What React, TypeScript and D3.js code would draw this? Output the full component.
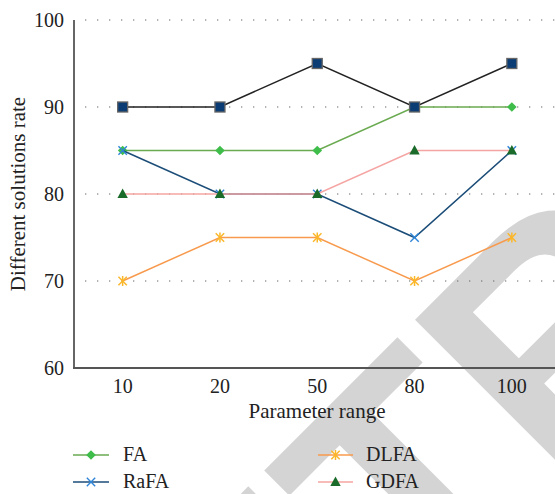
import React from 'react';
import * as d3 from 'd3';

const categories = ['10', '20', '50', '80', '100'];
const yTicks = [60, 70, 80, 90, 100];
const gridTicks = [70, 80, 90, 100];
const faValues = [85, 85, 85, 90, 90];
const rafaValues = [85, 80, 80, 75, 85];
const dlfaValues = [70, 75, 75, 70, 75];
const gdfaValues = [80, 80, 80, 85, 85];
const topValues = [90, 90, 95, 90, 95];
const legendNames = ['FA', 'RaFA', 'DLFA', 'GDFA'];

const W = 555;
const H = 494;
const FONT = '"Liberation Serif", "Times New Roman", serif';

const x = d3.scalePoint<string>().domain(categories).range([74, 560.5]).padding(0.5);
const y = d3.scaleLinear().domain([60, 100]).range([368, 20]);

type MarkerType = 'diamond' | 'x' | 'asterisk' | 'triangle' | 'square';

interface SeriesDef {
  name: string;
  values: number[];
  line: string;
  marker: MarkerType;
  fill: string;
  stroke?: string;
}

const series: SeriesDef[] = [
  { name: 'FA', values: faValues, line: '#6aaa50', marker: 'diamond', fill: '#3ebd4a' },
  { name: 'RaFA', values: rafaValues, line: '#1b4d78', marker: 'x', fill: '#2e85d8' },
  { name: 'DLFA', values: dlfaValues, line: '#f89a4d', marker: 'asterisk', fill: '#fbb72a' },
  { name: 'GDFA', values: gdfaValues, line: '#f5a5a3', marker: 'triangle', fill: '#1a6a2a' },
  { name: 'Top', values: topValues, line: '#222222', marker: 'square', fill: '#0c3c74', stroke: '#666' },
];

function Marker({ type, cx, cy, fill, stroke }: { type: MarkerType; cx: number; cy: number; fill: string; stroke?: string }) {
  const t = `translate(${cx},${cy})`;
  switch (type) {
    case 'diamond':
      return <path transform={t} d="M0,-4.8L4.8,0L0,4.8L-4.8,0Z" fill={fill} />;
    case 'x':
      return (
        <g transform={t} stroke={fill} strokeWidth={1.4}>
          <line x1={-4.2} y1={-4.2} x2={4.2} y2={4.2} />
          <line x1={-4.2} y1={4.2} x2={4.2} y2={-4.2} />
        </g>
      );
    case 'asterisk':
      return (
        <g transform={t} stroke={fill} strokeWidth={1.5}>
          <line x1={-4.2} y1={-4.2} x2={4.2} y2={4.2} />
          <line x1={-4.2} y1={4.2} x2={4.2} y2={-4.2} />
          <line x1={0} y1={-5} x2={0} y2={5} />
        </g>
      );
    case 'triangle':
      return <path transform={t} d="M0,-5.5L5.2,4L-5.2,4Z" fill={fill} />;
    case 'square':
      return <rect x={cx - 5} y={cy - 5} width={10} height={10} fill={fill} stroke={stroke} strokeWidth={1.3} />;
  }
}

export default function App() {
  const lineGen = d3
    .line<number>()
    .x((_, i) => x(categories[i]) as number)
    .y((d) => y(d));

  const legendPos = [
    { x0: 73, x1: 109, ty: 455, tx: 123 },
    { x0: 73, x1: 109, ty: 482, tx: 123 },
    { x0: 318, x1: 353, ty: 455, tx: 366 },
    { x0: 318, x1: 353, ty: 482, tx: 366 },
  ];

  return (
    <svg width={W} height={H} style={{ position: 'absolute', left: 0, top: 0, background: '#fff' }} fontFamily={FONT}>
      <rect x={0} y={0} width={W} height={H} fill="#fff" />
      {/* watermark */}
      <text
        transform="translate(103,943) rotate(-45)"
        fontFamily='"Liberation Sans", Arial, sans-serif'
        fontWeight="bold"
        fontSize={320}
        fill="#d4d4d4"
      >
        RETRACTED
      </text>

      {/* grid */}
      {gridTicks.map((t) => (
        <line key={t} x1={85} x2={W} y1={y(t)} y2={y(t)} stroke="#666" strokeWidth={1.2} strokeDasharray="1.3,10.7" />
      ))}

      {/* axes */}
      <line x1={74} x2={74} y1={y(100)} y2={y(60) + 1} stroke="#333" strokeWidth={1.5} />
      <line x1={73} x2={W} y1={y(60)} y2={y(60)} stroke="#555" strokeWidth={2} />

      {yTicks.map((t) => (
        <text key={t} x={64} y={y(t) + 6.5} textAnchor="end" fontSize={20} fill="#222">
          {t}
        </text>
      ))}
      {categories.map((c) => (
        <text key={c} x={x(c)} y={393} textAnchor="middle" fontSize={20} fill="#222">
          {c}
        </text>
      ))}
      <text x={317} y={418} textAnchor="middle" fontSize={21} fill="#222">
        Parameter range
      </text>
      <text transform="translate(25,194) rotate(-90)" textAnchor="middle" fontSize={21} fill="#222">
        Different solutions rate
      </text>

      {/* series */}
      {series.map((s) => (
        <g key={s.name}>
          <path d={lineGen(s.values) || ''} fill="none" stroke={s.line} strokeWidth={1.5} />
          {s.values.map((v, i) => (
            <Marker key={i} type={s.marker} cx={x(categories[i]) as number} cy={y(v)} fill={s.fill} stroke={s.stroke} />
          ))}
        </g>
      ))}

      {/* legend */}
      {legendNames.map((name, i) => {
        const s = series.find((d) => d.name === name)!;
        const p = legendPos[i];
        return (
          <g key={name}>
            <line x1={p.x0} x2={p.x1} y1={p.ty} y2={p.ty} stroke={s.line} strokeWidth={1.5} />
            <Marker type={s.marker} cx={(p.x0 + p.x1) / 2} cy={p.ty} fill={s.fill} stroke={s.stroke} />
            <text x={p.tx} y={p.ty + 6} fontSize={20} fill="#222">
              {name}
            </text>
          </g>
        );
      })}
    </svg>
  );
}
